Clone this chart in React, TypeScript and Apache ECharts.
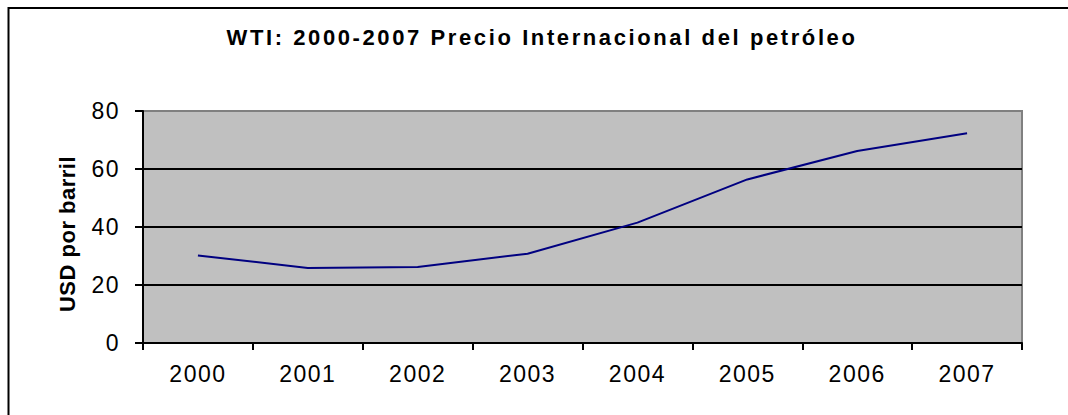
import React, { useEffect, useRef } from "react";
import * as echarts from "echarts";

const titleText = "WTI: 2000-2007 Precio Internacional del petróleo";
const yAxisName = "USD por barril";
const years = ["2000", "2001", "2002", "2003", "2004", "2005", "2006", "2007"];
const wtiPrice = [30.2, 25.9, 26.2, 30.8, 41.5, 56.4, 66.2, 72.3];

export default function App() {
  const ref = useRef<HTMLDivElement>(null);
  useEffect(() => {
    if (!ref.current) return;
    const chart = echarts.init(ref.current, null, { renderer: "svg" });
    const font = "'Liberation Sans', Arial, sans-serif";
    chart.setOption({
      animation: false,
      backgroundColor: "#ffffff",
      textStyle: { fontFamily: font },
      graphic: [
        {
          type: "rect",
          shape: { x: 8.5, y: 8, width: 1200, height: 600 },
          style: { fill: "none", stroke: "#000", lineWidth: 2 },
          silent: true,
          z: 100,
        },
        {
          type: "text",
          x: 542,
          y: 37,
          style: {
            text: titleText,
            fontFamily: font,
            fontWeight: "bold",
            fontSize: 22,
            fill: "#000",
            textAlign: "center",
            textVerticalAlign: "middle",
          },
        },
        {
          type: "text",
          x: 67,
          y: 234,
          rotation: Math.PI / 2,
          style: {
            text: yAxisName,
            fontFamily: font,
            fontWeight: "bold",
            fontSize: 22,
            fill: "#000",
            textAlign: "center",
            textVerticalAlign: "middle",
          },
        },
      ],
      grid: {
        left: 143,
        top: 111,
        right: 46,
        bottom: 72,
        show: true,
        backgroundColor: "#C0C0C0",
        borderColor: "#808080",
        borderWidth: 2,
      },
      xAxis: {
        type: "category",
        data: years,
        boundaryGap: true,
        axisLine: { lineStyle: { color: "#000", width: 2 } },
        axisTick: { show: true, length: 7, lineStyle: { color: "#000", width: 2 } },
        axisLabel: { color: "#000", fontSize: 23, margin: 19, fontFamily: font },
        splitLine: { show: false },
      },
      yAxis: {
        type: "value",
        min: 0,
        max: 80,
        interval: 20,
        axisLine: { show: true, lineStyle: { color: "#000", width: 2 } },
        axisTick: { show: true, length: 8, lineStyle: { color: "#000", width: 2 } },
        axisLabel: { color: "#000", fontSize: 23, margin: 23, fontFamily: font },
        splitLine: {
          show: true,
          showMaxLine: false,
          showMinLine: false,
          lineStyle: { color: "#000", width: 2 },
        },
      },
      series: [
        {
          type: "line",
          data: wtiPrice,
          symbol: "none",
          lineStyle: { color: "#000080", width: 2 },
          itemStyle: { color: "#000080" },
        },
      ],
    });
    const texts = ref.current.querySelectorAll("text");
    texts.forEach((t) => {
      const c = t.textContent || "";
      let sp = 1.5;
      if (c.indexOf("WTI") >= 0) sp = 2.6;
      else if (c.indexOf("USD") >= 0) sp = 0.5;
      t.setAttribute("letter-spacing", String(sp));
    });
    return () => chart.dispose();
  }, []);
  return (
    <div
      ref={ref}
      style={{ position: "absolute", left: 0, top: 0, width: 1068, height: 415 }}
    />
  );
}
